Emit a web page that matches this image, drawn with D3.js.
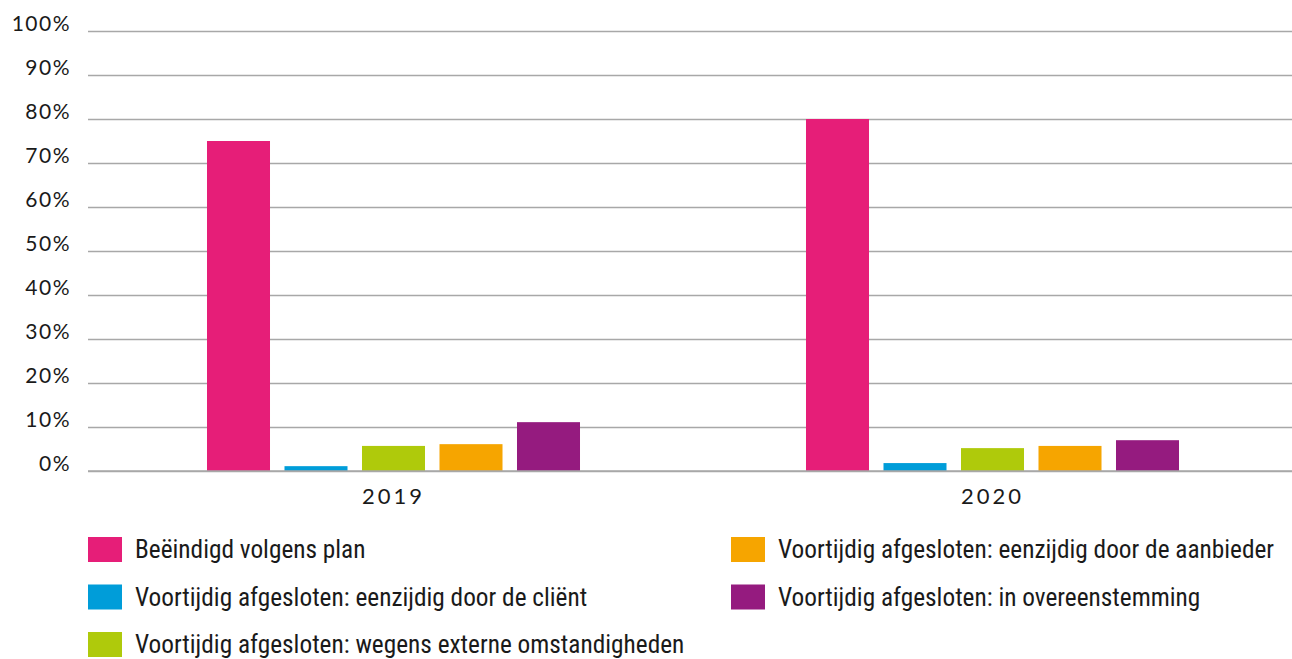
<!DOCTYPE html>
<meta charset='utf-8'>
<style>
body { margin: 0; background: #fff; }
.axis text { font-family: Lato, 'Open Sans', sans-serif; font-size: 21px; fill: #1a1a1a; letter-spacing: 1.5px; }
.axis--x text { font-size: 22px; letter-spacing: 3px; }
.legend text { font-family: 'Liberation Sans Narrow', 'Roboto Condensed', 'Noto Sans', sans-serif; font-size: 25.3px; fill: #1a1a1a; }
</style>
<svg width='1292' height='659'></svg>
<script src='https://cdnjs.cloudflare.com/ajax/libs/d3/7.8.5/d3.min.js'></script>
<script>

// data
const years = ['2019', '2020'];
const series = [
    'Beëindigd volgens plan',
    'Voortijdig afgesloten: eenzijdig door de cliënt',
    'Voortijdig afgesloten: wegens externe omstandigheden',
    'Voortijdig afgesloten: eenzijdig door de aanbieder',
    'Voortijdig afgesloten: in overeenstemming'
];
const values2019 = [0.75, 0.011, 0.057, 0.061, 0.111];
const values2020 = [0.80, 0.018, 0.052, 0.057, 0.070];
const yTicks = [0, 0.1, 0.2, 0.3, 0.4, 0.5, 0.6, 0.7, 0.8, 0.9, 1];
const colors = ['#e61e78', '#009dd9', '#afca0b', '#f6a500', '#951b7f'];

const valuesByYear = { '2019': values2019, '2020': values2020 };

var svg = d3.select('svg'),
    width = +svg.attr('width');

const gridLeft = 88;

const x0 = d3.scaleBand()
    .domain(years)
    .range([94, width]);

const x1 = d3.scaleBand()
    .domain(series)
    .range([0, x0.bandwidth()])
    .paddingInner(0.187)
    .paddingOuter(1.458);

const y = d3.scaleLinear()
    .domain([0, 1])
    .range([471, 31]);

const color = d3.scaleOrdinal().domain(series).range(colors);

// gridlines + y labels
const yAxis = svg.append('g')
    .attr('class', 'axis axis--y')
    .attr('transform', `translate(${gridLeft},0)`)
    .call(d3.axisLeft(y)
        .tickValues(yTicks)
        .tickSize(-(width - gridLeft))
        .tickPadding(17)
        .tickFormat(d3.format('.0%')));

yAxis.select('.domain').remove();
yAxis.selectAll('.tick line')
    .attr('stroke', '#a8a8a8')
    .attr('stroke-width', 1.5);
yAxis.selectAll('.tick text')
    .attr('dy', '-0.02em');

// bars
const groups = svg.append('g')
    .selectAll('g')
    .data(years)
    .join('g')
    .attr('transform', d => `translate(${x0(d)},0)`);

groups.selectAll('rect')
    .data(yr => series.map((s, i) => ({ key: s, value: valuesByYear[yr][i] })))
    .join('rect')
    .attr('x', d => x1(d.key))
    .attr('width', x1.bandwidth())
    .attr('y', d => y(d.value))
    .attr('height', d => y(0) - y(d.value))
    .attr('fill', d => color(d.key));

// redraw baseline on top of bars
svg.append('line')
    .attr('x1', gridLeft).attr('x2', width)
    .attr('y1', y(0)).attr('y2', y(0))
    .attr('stroke', '#a8a8a8')
    .attr('stroke-width', 1.5);

// x labels
const xAxis = svg.append('g')
    .attr('class', 'axis axis--x')
    .attr('transform', `translate(0,${y(0)})`)
    .call(d3.axisBottom(x0).tickSize(0).tickPadding(17));
xAxis.select('.domain').remove();

// legend: two columns
const legendCols = [88, 731],
    legendTop = 537,
    rowStep = 47.5;

const legend = svg.append('g')
    .attr('class', 'legend')
    .selectAll('g')
    .data(series)
    .join('g')
    .attr('transform', (d, i) => {
        const col = i < 3 ? 0 : 1,
            row = i < 3 ? i : i - 3;
        return `translate(${legendCols[col]},${legendTop + row * rowStep})`;
    });

legend.append('rect')
    .attr('width', 34)
    .attr('height', 25)
    .attr('fill', d => color(d));

legend.append('text')
    .attr('x', 47)
    .attr('y', 12.5)
    .attr('dy', '0.35em')
    .text(d => d);
</script>
